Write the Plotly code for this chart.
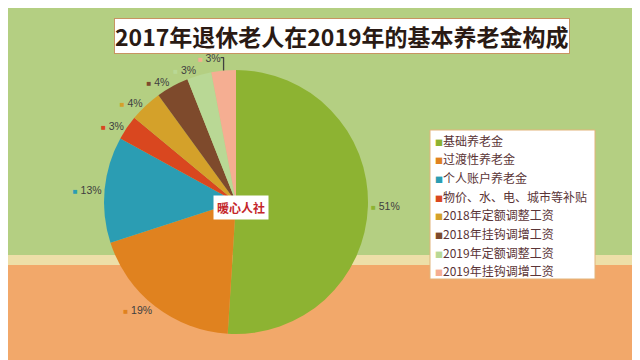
import plotly.graph_objects as go

labels = ["基础养老金", "过渡性养老金", "个人账户养老金", "物价、水、电、城市等补贴",
          "2018年定额调整工资", "2018年挂钩调增工资", "2019年定额调整工资", "2019年挂钩调增工资"]
values = [51, 19, 13, 3, 4, 4, 3, 3]
colors = ["#8db332", "#e0821f", "#2b9db3", "#d9471f", "#d4a12a", "#7e4a2c", "#b9d895", "#f5ae92"]
title_text = "2017年退休老人在2019年的基本养老金构成"
watermark = "暖心人社"

W, H = 640, 360
text = [f"<span style='color:{c};font-size:8px'>■</span> {v}%" for c, v in zip(colors, values)]

fig = go.Figure()
fig.add_trace(go.Pie(
    labels=labels, values=values, sort=False, direction="clockwise", rotation=0,
    marker=dict(colors=colors, line=dict(width=0)),
    text=text, texttemplate="%{text}", textposition="outside",
    textfont=dict(size=10.5, color="#404040", family="Liberation Sans Narrow, Liberation Sans, sans-serif"),
    domain=dict(x=[96/W, 360/W], y=[34/H, 298/H]),
    hoverinfo="label+percent", showlegend=False,
))

shapes = [
    dict(type="rect", xref="paper", yref="paper", x0=0, x1=1, y0=0, y1=1,
         fillcolor="#b4cf82", line=dict(width=0), layer="below"),
    dict(type="rect", xref="paper", yref="paper", x0=0, x1=1, y0=1-257/H, y1=1-247/H,
         fillcolor="#eddfa8", line=dict(width=0), layer="below"),
    dict(type="rect", xref="paper", yref="paper", x0=0, x1=1, y0=0, y1=1-257/H,
         fillcolor="#f2a86a", line=dict(width=0), layer="below"),
    # legend box
    dict(type="rect", xref="paper", yref="paper", x0=422/W, x1=587/W, y0=1-271/H, y1=1-122/H,
         fillcolor="white", line=dict(width=1, color="#e2b47a"), layer="below"),
]

annotations = [
    dict(text=f"<b>{title_text}</b>", x=334/W, y=1-28/H, xref="paper", yref="paper",
         showarrow=False, font=dict(size=23, color="#2a1a14", family="Noto Sans CJK SC, sans-serif"),
         bgcolor="white", bordercolor="#c79462", borderwidth=1, borderpad=0,
         xanchor="center", yanchor="middle"),
    dict(text=f"<b>{watermark}</b>", x=233/W, y=1-199/H, xref="paper", yref="paper",
         showarrow=False, font=dict(size=12, color="#c4262b", family="Noto Sans CJK SC, sans-serif"),
         bgcolor="white", borderpad=3, xanchor="center", yanchor="middle"),
]

# legend entries
for i, (lab, c) in enumerate(zip(labels, colors)):
    yc = 132 + i * 18.7
    annotations.append(dict(
        text=f"<span style='color:{c};font-size:8px'>■</span>{lab}",
        x=425/W, y=1-yc/H, xref="paper", yref="paper", showarrow=False,
        xanchor="left", yanchor="middle",
        font=dict(size=12, color="#5a3436", family="Noto Sans CJK SC, sans-serif"),
    ))

fig.update_layout(
    width=W, height=H,
    margin=dict(l=0, r=0, t=0, b=0),
    paper_bgcolor="#b4cf82",
    shapes=shapes,
    showlegend=False,
    font=dict(family="Noto Sans CJK SC, sans-serif"),
    annotations=annotations,
)

fig.write_html("out.html")
